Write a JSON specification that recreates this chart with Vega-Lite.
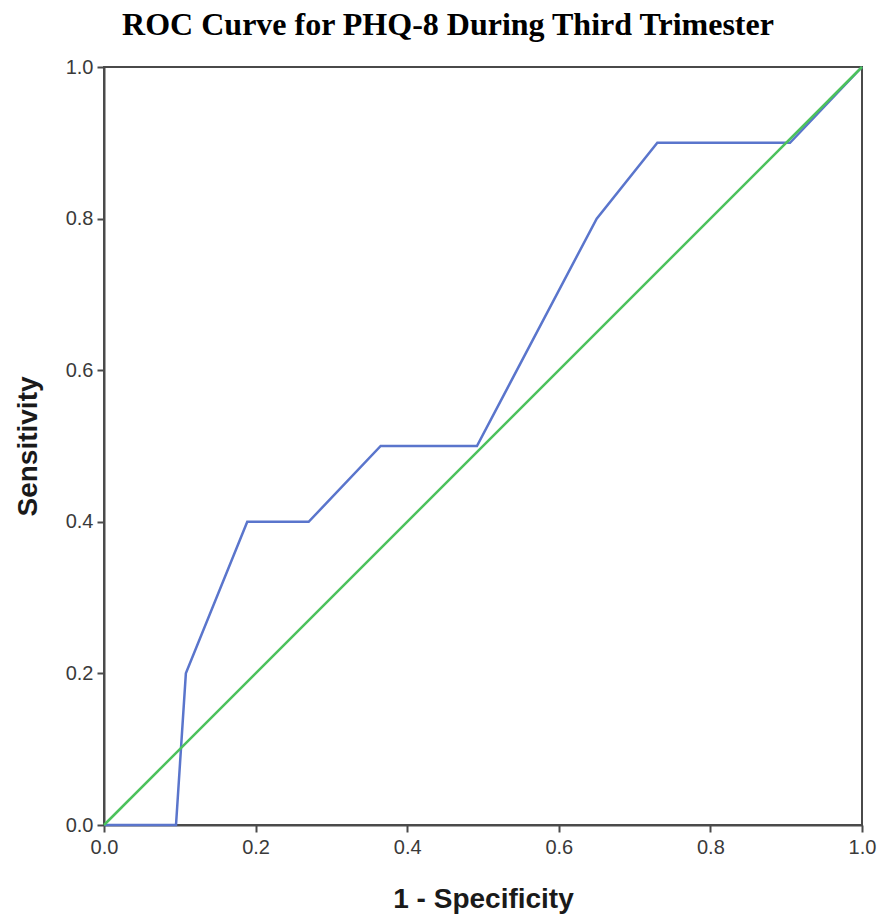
{
  "$schema": "https://vega.github.io/schema/vega-lite/v6.json",
  "width": 758,
  "height": 758,
  "autosize": {"type": "none"},
  "padding": {"left": 104, "top": 67, "right": 20, "bottom": 97},
  "background": "white",
  "config": {
    "view": {"stroke": "#4a4a4a", "strokeWidth": 2},
    "axis": {
      "domainColor": "#4a4a4a",
      "domainWidth": 2,
      "tickColor": "#4a4a4a",
      "tickWidth": 2,
      "tickSize": 7,
      "grid": false,
      "labelFlush": false,
      "labelFont": "Liberation Sans",
      "labelFontSize": 20,
      "labelColor": "#3a3a3a",
      "titleFont": "Liberation Sans",
      "titleFontSize": 28,
      "titleFontWeight": "bold",
      "titleColor": "#1a1a1a"
    }
  },
  "title": {
    "text": "ROC Curve for PHQ-8 During Third Trimester",
    "font": "Liberation Serif",
    "fontSize": 32,
    "fontWeight": "bold",
    "color": "#000000",
    "anchor": "middle",
    "dx": -35,
    "offset": 15
  },
  "data": {
    "values": [
      {"series": "curve", "order": 1, "x": 0.0, "y": 0.0},
      {"series": "curve", "order": 2, "x": 0.095, "y": 0.0},
      {"series": "curve", "order": 3, "x": 0.108, "y": 0.2},
      {"series": "curve", "order": 4, "x": 0.189, "y": 0.4},
      {"series": "curve", "order": 5, "x": 0.27, "y": 0.4},
      {"series": "curve", "order": 6, "x": 0.365, "y": 0.5},
      {"series": "curve", "order": 7, "x": 0.492, "y": 0.5},
      {"series": "curve", "order": 8, "x": 0.65, "y": 0.8},
      {"series": "curve", "order": 9, "x": 0.73, "y": 0.9},
      {"series": "curve", "order": 10, "x": 0.905, "y": 0.9},
      {"series": "curve", "order": 11, "x": 1.0, "y": 1.0},
      {"series": "reference", "order": 1, "x": 0.0, "y": 0.0},
      {"series": "reference", "order": 2, "x": 1.0, "y": 1.0}
    ]
  },
  "mark": {"type": "line", "strokeWidth": 2.5},
  "encoding": {
    "x": {
      "field": "x", "type": "quantitative",
      "scale": {"domain": [0, 1], "nice": false},
      "axis": {"values": [0, 0.2, 0.4, 0.6, 0.8, 1.0], "format": ".1f", "title": "1 - Specificity", "titlePadding": 28, "labelPadding": 5}
    },
    "y": {
      "field": "y", "type": "quantitative",
      "scale": {"domain": [0, 1], "nice": false},
      "axis": {"values": [0, 0.2, 0.4, 0.6, 0.8, 1.0], "format": ".1f", "title": "Sensitivity", "titlePadding": 23, "labelPadding": 4}
    },
    "color": {
      "field": "series", "type": "nominal",
      "scale": {"domain": ["curve", "reference"], "range": ["#5a75cc", "#4cc25c"]},
      "legend": null
    },
    "order": {"field": "order", "type": "quantitative"}
  }
}
